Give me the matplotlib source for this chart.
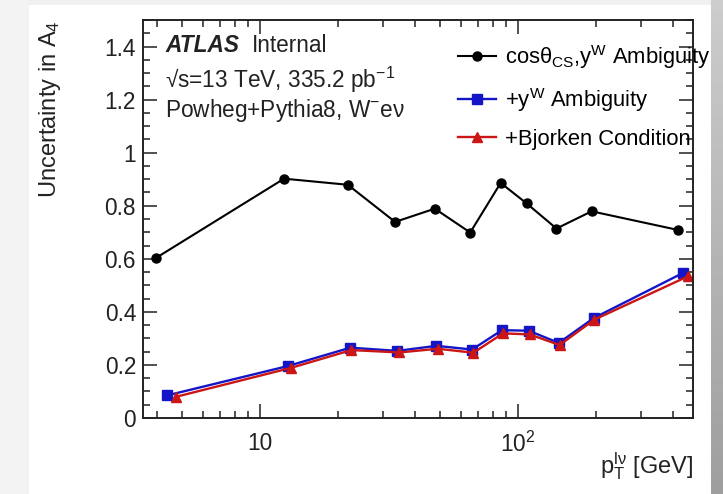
import numpy as np
import matplotlib
matplotlib.use("Agg")
import matplotlib.pyplot as plt
from matplotlib.patches import Rectangle
from matplotlib.ticker import LogLocator, MultipleLocator, FixedFormatter, FixedLocator, NullFormatter

plt.rcParams['font.family'] = ['Liberation Sans', 'DejaVu Sans']
plt.rcParams['mathtext.fontset'] = 'custom'
plt.rcParams['mathtext.rm'] = 'Liberation Sans'
plt.rcParams['mathtext.it'] = 'Liberation Sans:italic'
plt.rcParams['mathtext.bf'] = 'Liberation Sans:bold'

# pT bins (GeV) and uncertainty in A4 for each ambiguity treatment
pt_cos = [3.95, 12.4, 21.9, 33.4, 47.6, 65.3, 85.7, 108, 141, 193, 416]
unc_cos = [0.603, 0.902, 0.879, 0.739, 0.789, 0.699, 0.886, 0.809, 0.714, 0.779, 0.709]

pt_yw = [4.36, 12.85, 22.4, 34.1, 48.3, 66.4, 86.7, 110, 144, 197, 437]
unc_yw = [0.085, 0.196, 0.265, 0.253, 0.272, 0.258, 0.331, 0.329, 0.283, 0.377, 0.547]

pt_bj = [4.73, 13.2, 22.6, 34.7, 48.9, 67.2, 87.5, 111, 145, 198, 456]
unc_bj = [0.080, 0.189, 0.256, 0.247, 0.261, 0.246, 0.319, 0.315, 0.275, 0.371, 0.534]

W, H = 723, 494
FS = 16.3
ink = '#222222'
fig = plt.figure(figsize=(W / 100, H / 100), dpi=100)
fig.patch.set_facecolor('#f0f0f0')


def px(x, y):
    # pixel position (from top-left) to figure fraction
    return x / W, 1 - y / H


# slide background: soft shadow on the right, white card
bg = fig.add_axes([0, 0, 1, 1])
bg.set_axis_off()
bg.set_xlim(0, W)
bg.set_ylim(H, 0)
grad = np.linspace(0.80, 0.62, 60).reshape(-1, 1) * np.ones((1, 4))
bg.imshow(grad, cmap='gray', vmin=0, vmax=1, extent=(711, W, H, 0), aspect='auto')
bg.add_patch(Rectangle((0, 0), 29, H, color='#f3f3f3', lw=0))
bg.add_patch(Rectangle((29, 5), 682, H - 5, color='white', lw=0))

ax = fig.add_axes([143 / W, 1 - 418 / H, (693 - 143) / W, (418 - 20) / H])
ax.set_facecolor('none')

ax.plot(pt_cos, unc_cos, color='black', marker='o', ms=6.5, lw=1.5,
        label=r'cosθ$_{\mathrm{CS}}$,y$^{\mathrm{W}}$ Ambiguity')
ax.plot(pt_yw, unc_yw, color='#1515c8', marker='s', ms=6.5, lw=1.7,
        label=r'+y$^{\mathrm{W}}$ Ambiguity')
ax.plot(pt_bj, unc_bj, color='#cc1515', marker='^', ms=6.5, lw=1.7,
        label='+Bjorken Condition')

ax.set_xscale('log')
ax.set_xlim(3.52, 477)
ax.set_ylim(0, 1.5)

ax.xaxis.set_major_locator(FixedLocator([10, 100]))
ax.xaxis.set_major_formatter(FixedFormatter(['10', r'10$^{2}$']))
ax.xaxis.set_minor_locator(LogLocator(base=10, subs=np.arange(2, 10), numticks=20))
ax.xaxis.set_minor_formatter(NullFormatter())
ax.yaxis.set_minor_locator(MultipleLocator(0.05))
ax.set_yticks([0, 0.2, 0.4, 0.6, 0.8, 1.0, 1.2, 1.4])
ax.set_yticklabels(['0', '0.2', '0.4', '0.6', '0.8', '1', '1.2', '1.4'])

ax.tick_params(which='both', direction='in', top=True, right=True,
               colors=ink, labelcolor=ink, labelsize=FS, width=1.1)
ax.tick_params(which='major', length=10, pad=5)
ax.tick_params(which='minor', length=5)
ax.tick_params(axis='x', which='major', pad=10)
for s in ax.spines.values():
    s.set_linewidth(1.4)
    s.set_color(ink)

fig.text(*px(50, 20), r'Uncertainty in A$_{4}$', rotation=90,
         ha='center', va='top', fontsize=17, color=ink)
fig.text(*px(693, 466), r'p$_{\mathrm{T}}^{\mathrm{lν}}$ [GeV]',
         ha='right', va='center', fontsize=17, color=ink)

fig.text(*px(165, 46), 'ATLAS', fontsize=FS, fontweight='bold',
         fontstyle='italic', va='center', color=ink)
fig.text(*px(252, 46), 'Internal', fontsize=FS, va='center', color=ink)
fig.text(*px(165, 80), r'√s=13 TeV, 335.2 pb$^{-1}$', fontsize=FS,
         va='center', color=ink)
fig.text(*px(165, 110), r'Powheg+Pythia8, W$^{-}$eν', fontsize=FS,
         va='center', color=ink)

ax.legend(loc='upper left', bbox_to_anchor=px(458, 43),
          bbox_transform=fig.transFigure, frameon=False, fontsize=15.8,
          handlelength=1.75, handletextpad=0.4, labelspacing=0.68,
          borderpad=0, borderaxespad=0)

fig.savefig('out.png', dpi=100)
